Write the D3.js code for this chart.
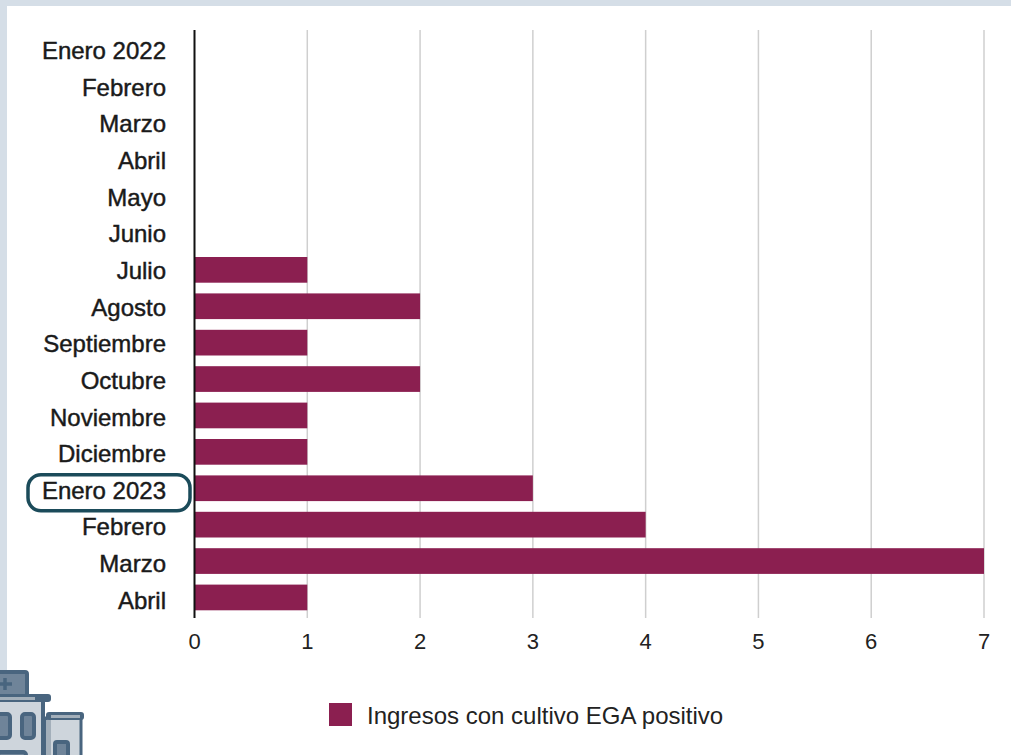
<!DOCTYPE html>
<html><head><meta charset="utf-8">
<script src="https://cdn.jsdelivr.net/npm/d3@7"></script>
<style>html,body{margin:0;padding:0;background:#fff;overflow:hidden}svg{display:block}text{font-family:"Liberation Sans",Arial,sans-serif}</style>
</head><body><svg id="c" width="1011" height="755"></svg>
<script>
const months=["Enero 2022","Febrero","Marzo","Abril","Mayo","Junio","Julio","Agosto","Septiembre","Octubre","Noviembre","Diciembre","Enero 2023","Febrero","Marzo","Abril"];
const counts=[0,0,0,0,0,0,1,2,1,2,1,1,3,4,7,1];
const xTicks=[0,1,2,3,4,5,6,7];
const legendLabel="Ingresos con cultivo EGA positivo";
const highlighted=12;
const svg=d3.select("#c");
svg.append("rect").attr("width",1011).attr("height",6).attr("fill","#d5dee7");
svg.append("rect").attr("width",7).attr("height",680).attr("fill","#d5dee7");
const x=d3.scaleLinear().domain([0,7]).range([194.5,984]);
const y=d3.scaleBand().domain(d3.range(months.length)).range([33.25,615.65]).paddingInner(0.294).paddingOuter(0.147);
const labelY=d3.scaleBand().domain(d3.range(months.length)).range([32,618.5]).paddingInner(0.29).paddingOuter(0.145);
const g=svg.append("g");
g.selectAll("line.grid").data(xTicks.slice(1)).join("line").attr("class","grid")
 .attr("x1",d=>x(d)).attr("x2",d=>x(d)).attr("y1",30).attr("y2",618).attr("stroke","#cfcfcf").attr("stroke-width",1.5);
g.selectAll("rect.bar").data(counts).join("rect").attr("class","bar")
 .attr("x",x(0)).attr("y",(d,i)=>y(i)).attr("width",d=>x(d)-x(0)).attr("height",y.bandwidth()).attr("fill","#8b1f50");
g.append("line").attr("x1",x(0)).attr("x2",x(0)).attr("y1",30).attr("y2",618).attr("stroke","#111").attr("stroke-width",2);
g.selectAll("text.cat").data(months).join("text").attr("class","cat")
 .attr("x",166).attr("y",(d,i)=>labelY(i)+labelY.bandwidth()/2).attr("dy","0.36em").attr("text-anchor","end")
 .attr("font-size",24).attr("fill","#1a1a1a").attr("stroke","#1a1a1a").attr("stroke-width",0.45).text(d=>d);
g.selectAll("text.tick").data(xTicks).join("text").attr("class","tick")
 .attr("x",d=>x(d)).attr("y",649).attr("text-anchor","middle").attr("font-size",22).attr("fill","#222").text(d=>d);
const cy=labelY(highlighted)+labelY.bandwidth()/2;
g.append("rect").attr("x",28).attr("y",cy-15.5).attr("width",162).attr("height",36).attr("rx",13)
 .attr("fill","none").attr("stroke","#1b4b5a").attr("stroke-width",3.5);
g.append("rect").attr("x",329).attr("y",703).attr("width",23).attr("height",23).attr("fill","#8b1f50");
g.append("text").attr("x",367).attr("y",724).attr("font-size",24).attr("fill","#222").text(legendLabel);
// hospital icon
const ic=svg.append("g"), dk="#49657f", lt="#ced5dc", md="#6f8499", pl="#a3afba";
ic.append("rect").attr("x",-4).attr("y",672).attr("width",31).attr("height",24).attr("fill",md).attr("stroke",dk).attr("stroke-width",4).attr("rx",2);
ic.append("path").attr("d","M0 684H12M5 678V690").attr("stroke",dk).attr("stroke-width",3.5).attr("fill","none");
ic.append("rect").attr("x",-4).attr("y",700).attr("width",47).attr("height",60).attr("fill",lt).attr("stroke",dk).attr("stroke-width",4);
ic.append("rect").attr("x",10).attr("y",694).attr("width",41).attr("height",8).attr("rx",3).attr("fill",dk);
ic.append("rect").attr("x",0).attr("y",697).attr("width",35).attr("height",3).attr("fill",pl);
ic.append("rect").attr("x",46).attr("y",718).attr("width",35).attr("height",42).attr("fill",lt).attr("stroke",dk).attr("stroke-width",3);
ic.append("rect").attr("x",46).attr("y",720).attr("width",5).attr("height",36).attr("fill",pl);
ic.append("rect").attr("x",46).attr("y",712).attr("width",38).attr("height",8).attr("rx",3).attr("fill",dk);
ic.append("rect").attr("x",51).attr("y",715).attr("width",29).attr("height",3).attr("fill",pl);
[[-4,714,14,24],[22,714,12,24]].forEach(r=>ic.append("rect").attr("x",r[0]).attr("y",r[1]).attr("width",r[2]).attr("height",r[3]).attr("rx",3).attr("fill",md).attr("stroke",dk).attr("stroke-width",4));
ic.append("rect").attr("x",55).attr("y",742).attr("width",13).attr("height",20).attr("rx",2).attr("fill",md).attr("stroke",dk).attr("stroke-width",4);
ic.append("rect").attr("x",-2).attr("y",752).attr("width",28).attr("height",10).attr("rx",3).attr("fill",md).attr("stroke",dk).attr("stroke-width",4);
</script></body></html>
